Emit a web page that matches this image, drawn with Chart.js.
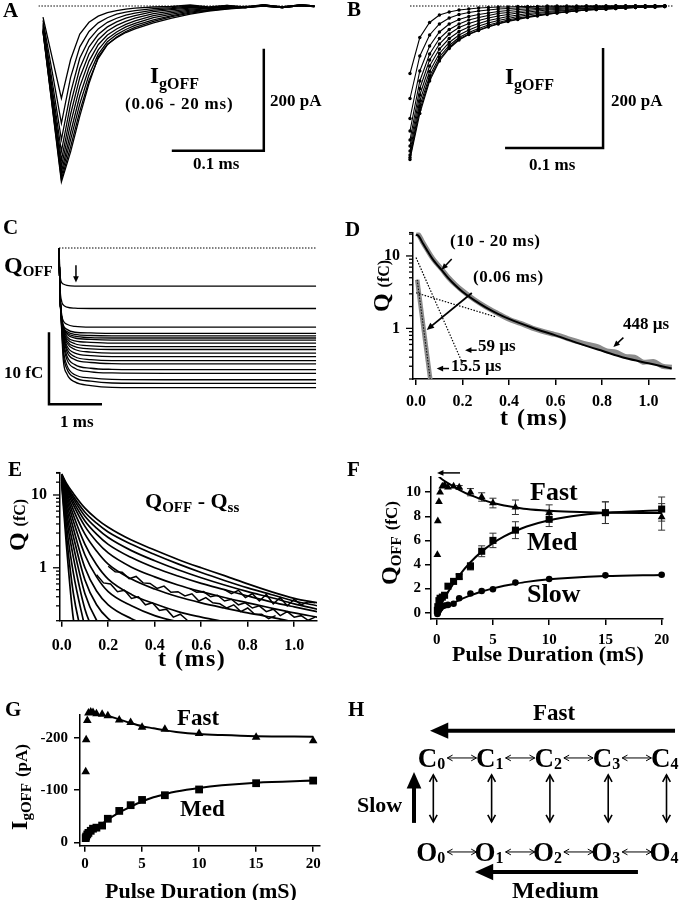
<!DOCTYPE html>
<html>
<head>
<meta charset="utf-8">
<title>Gating currents and charge</title>
<script src="https://cdn.jsdelivr.net/npm/chart.js@4.4.1/dist/chart.umd.min.js"></script>
<style>
  body { margin:0; width:690px; height:900px; position:relative; overflow:hidden; background:#fff;
         font-family:"Liberation Serif", "Times New Roman", serif; font-weight:bold; color:#000; }
  canvas { position:absolute; }
  .t { position:absolute; white-space:nowrap; line-height:1; }
</style>
</head>
<body>
<canvas id="cA" width="345" height="200" style="left:0;top:0"></canvas>
<canvas id="cB" width="345" height="200" style="left:345px;top:0"></canvas>
<canvas id="cC" width="345" height="230" style="left:0;top:210px"></canvas>
<canvas id="cD" width="345" height="230" style="left:345px;top:210px"></canvas>
<canvas id="cE" width="345" height="240" style="left:0;top:450px"></canvas>
<canvas id="cF" width="345" height="240" style="left:345px;top:450px"></canvas>
<canvas id="cG" width="345" height="210" style="left:0;top:690px"></canvas>
<canvas id="cH" width="345" height="210" style="left:345px;top:690px"></canvas>
<script>
// ---------- A: IgOFF traces after pulses of 0.06 - 20 ms (pA vs ms)
const tA = [0, 0.02, 0.03, 0.04, 0.05, 0.06, 0.07, 0.08, 0.09, 0.10, 0.12, 0.14, 0.16, 0.18, 0.20, 0.22, 0.24, 0.26, 0.28, 0.295];
const igA = [
  [-22, -181, -105, -55, -32, -20, -13, -9, -6, -4, -2, -1, 2, -2, 1, -3, 2, -2, 1, 0],
  [-28, -230, -140, -80, -50, -33, -23, -16, -12, -9, -5, -3, 0, -3, 1, -2, 3, -3, 2, -1],
  [-34, -262, -170, -102, -66, -45, -32, -24, -18, -14, -8, -5, -2, -4, 0, -3, 1, -2, 2, 0],
  [-38, -285, -192, -122, -80, -56, -41, -31, -24, -19, -11, -7, -4, -3, -1, -3, 2, -3, 1, -1],
  [-42, -302, -212, -140, -94, -66, -49, -38, -30, -24, -15, -10, -6, -4, -2, -2, 1, -3, 2, 0],
  [-45, -315, -230, -158, -108, -76, -57, -45, -36, -29, -19, -13, -8, -5, -3, -1, 0, -3, 1, -1],
  [-47, -326, -248, -176, -122, -86, -64, -51, -41, -34, -23, -16, -10, -7, -4, -2, 1, -2, 2, 0],
  [-49, -334, -262, -192, -135, -95, -70, -56, -46, -38, -27, -19, -12, -8, -5, -2, 0, -3, 1, -1],
  [-50, -340, -276, -206, -146, -103, -76, -61, -50, -42, -30, -21, -14, -9, -5, -3, 1, -2, 2, 0],
  [-50, -345, -286, -216, -152, -100, -75, -62, -52, -45, -33, -24, -16, -10, -6, -3, 0, -3, 1, -1]
];
const baseA = [[-0.005, 0], [0.294, 0]];
const barA = [[0.14, -284], [0.24, -284], [0.24, -84]];   // 0.1 ms x 200 pA

// ---------- B: fitted IgOFF decays (sampled points)
const tB = [0, 0.01, 0.02, 0.03, 0.04, 0.05, 0.06, 0.07, 0.08, 0.09, 0.10, 0.11, 0.12, 0.13,
            0.14, 0.15, 0.16, 0.17, 0.18, 0.19, 0.20, 0.21, 0.22, 0.23, 0.24, 0.25, 0.26];
const igB = [
  [-135, -63, -33, -18, -12, -8, -6, -4, -3, -2, -2, -1, -1, -1, 0, 0, 0, 0, 0, 0, 0, 0, 0, 0, 0, 0, 0],
  [-185, -100, -58, -36, -24, -17, -13, -10, -8, -6, -5, -4, -3, -2, -2, -1, -1, -1, 0, 0, 0, 0, 0, 0, 0, 0, 0],
  [-225, -130, -80, -52, -36, -27, -21, -17, -14, -11, -9, -7, -6, -5, -4, -3, -2, -2, -1, -1, -1, 0, 0, 0, 0, 0, 0],
  [-250, -150, -96, -65, -47, -36, -28, -23, -19, -15, -13, -11, -9, -7, -6, -5, -4, -3, -2, -2, -1, -1, -1, 0, 0, 0, 0],
  [-268, -165, -108, -76, -56, -43, -35, -29, -24, -20, -17, -14, -12, -10, -8, -7, -6, -5, -4, -3, -2, -2, -1, -1, -1, 0, 0],
  [-280, -178, -120, -86, -65, -51, -42, -35, -29, -25, -21, -18, -15, -13, -11, -9, -8, -6, -5, -4, -3, -3, -2, -2, -1, -1, 0],
  [-290, -190, -131, -95, -73, -58, -48, -40, -34, -29, -25, -21, -18, -15, -13, -11, -9, -8, -7, -5, -4, -4, -3, -2, -2, -1, -1],
  [-298, -200, -140, -102, -79, -63, -53, -45, -38, -33, -28, -24, -21, -18, -15, -13, -11, -9, -8, -7, -6, -5, -4, -3, -2, -2, -1],
  [-303, -208, -146, -107, -83, -66, -56, -48, -41, -35, -30, -26, -22, -19, -16, -14, -12, -10, -8, -7, -6, -5, -4, -3, -2, -2, -1],
  [-307, -215, -150, -110, -85, -68, -57, -49, -42, -36, -31, -27, -23, -20, -17, -14, -12, -10, -8, -7, -6, -5, -4, -3, -2, -2, -1]
];
const baseB = [[0, 0], [0.268, 0]];
const barB = [[0.097, -284], [0.197, -284], [0.197, -84]];

// ---------- C: QOFF (fC) integrals vs time (ms)
const tC = [0, 0.02, 0.05, 0.08, 0.15, 0.3, 0.6, 1.0, 2.0, 3.0, 4.0, 4.85];
const qC = [
  [0, -3.7, -4.8, -5.0, -5.2, -5.3, -5.3, -5.3, -5.3, -5.3, -5.3, -5.3],
  [0, -5.5, -7.4, -7.9, -8.2, -8.35, -8.4, -8.4, -8.4, -8.4, -8.4, -8.4],
  [0, -6.5, -9.2, -10.1, -10.6, -10.9, -11.0, -11.0, -11.0, -11.0, -11.0, -11.0],
  [0, -6.6, -9.6, -10.7, -11.3, -11.7, -11.8, -11.85, -11.85, -11.85, -11.85, -11.85],
  [0, -6.6, -9.7, -10.9, -11.6, -12.0, -12.15, -12.2, -12.2, -12.2, -12.2, -12.2],
  [0, -6.6, -9.8, -11.0, -11.8, -12.25, -12.45, -12.5, -12.5, -12.5, -12.5, -12.5],
  [0, -6.6, -9.8, -11.1, -12.0, -12.5, -12.7, -12.8, -12.8, -12.8, -12.8, -12.8],
  [0, -6.6, -9.8, -11.2, -12.3, -12.9, -13.1, -13.2, -13.2, -13.2, -13.2, -13.2],
  [0, -6.6, -9.8, -11.4, -12.6, -13.3, -13.6, -13.7, -13.7, -13.7, -13.7, -13.7],
  [0, -6.6, -9.8, -11.5, -12.9, -13.7, -14.0, -14.1, -14.1, -14.1, -14.1, -14.1],
  [0, -6.6, -9.9, -11.7, -13.2, -14.1, -14.45, -14.6, -14.6, -14.6, -14.6, -14.6],
  [0, -6.6, -9.9, -11.9, -13.6, -14.6, -14.95, -15.1, -15.1, -15.1, -15.1, -15.1],
  [0, -6.6, -10.0, -12.1, -14.0, -15.1, -15.5, -15.65, -15.65, -15.65, -15.65, -15.65],
  [0, -6.6, -10.1, -12.3, -14.4, -15.5, -15.9, -16.05, -16.1, -16.1, -16.1, -16.1],
  [0, -6.6, -10.3, -12.8, -15.0, -16.2, -16.7, -16.85, -16.9, -16.9, -16.9, -16.9],
  [0, -6.6, -10.5, -13.2, -15.5, -16.7, -17.2, -17.35, -17.4, -17.4, -17.4, -17.4],
  [0, -6.6, -10.8, -14.0, -16.3, -17.6, -18.05, -18.25, -18.3, -18.3, -18.3, -18.3],
  [0, -6.6, -11.0, -14.6, -16.8, -18.0, -18.5, -18.75, -18.8, -18.8, -18.8, -18.8],
  [0, -6.6, -11.4, -15.5, -17.5, -18.6, -19.1, -19.35, -19.4, -19.4, -19.4, -19.4]
];
const baseC = [[0, 0], [4.85, 0]];
const barC = [[-0.189, -11.7], [-0.189, -21.7], [0.811, -21.7]];   // 10 fC x 1 ms

// ---------- D: Q (fC) on log axis vs t (ms)
const tDfit = [0, 0.01, 0.02, 0.03, 0.05, 0.07, 0.09, 0.11, 0.14, 0.17, 0.2, 0.25, 0.3, 0.35, 0.4, 0.5, 0.6, 0.7, 0.8, 0.9, 1.0, 1.1];
const qDfit = [19.5, 19.0, 17.0, 14.8, 11.6, 9.2, 7.6, 6.4, 4.9, 3.9, 3.2, 2.45, 1.95, 1.6, 1.35, 1.02, 0.8, 0.62, 0.49, 0.39, 0.33, 0.28];
const tDdata = [0, 0.01, 0.02, 0.03, 0.05, 0.07, 0.09, 0.11, 0.14, 0.17, 0.2, 0.25, 0.3, 0.35, 0.4, 0.45, 0.5, 0.54,
                0.58, 0.62, 0.66, 0.7, 0.74, 0.78, 0.82, 0.86, 0.9, 0.94, 0.98, 1.02, 1.06, 1.1];
const qDdata = [20.3, 19.8, 17.5, 15.2, 11.9, 9.4, 7.8, 6.6, 5.0, 4.0, 3.3, 2.5, 1.98, 1.62, 1.34, 1.17, 1.01, 0.92,
                0.85, 0.79, 0.71, 0.65, 0.6, 0.56, 0.49, 0.47, 0.41, 0.4, 0.34, 0.35, 0.3, 0.29];
const tD59 = [0, 0.2],        qD59 = [9.5, 0.33];      // 59 us component
const tD448 = [0, 0.34],      qD448 = [3.1, 1.45];     // 448 us component
const tD15 = [0.005, 0.063],  qD15 = [4.7, 0.18];      // 0.06 ms pulse, 15.5 us

// ---------- E: QOFF - Qss, all pulse durations
const tE = [0, 0.02, 0.05, 0.1, 0.15, 0.2, 0.3, 0.4, 0.5, 0.6, 0.7, 0.8, 0.9, 1.0, 1.1];
const qE = [
  [19.5, 14.5, 10.5, 6.6, 4.7, 3.6, 2.4, 1.75, 1.3, 1.0, 0.78, 0.6, 0.47, 0.38, 0.33],
  [19, 13.8, 9.6, 5.8, 4.1, 3.1, 2.1, 1.52, 1.13, 0.86, 0.67, 0.53, 0.43, 0.35, 0.3],
  [19, 13.2, 8.9, 5.1, 3.5, 2.6, 1.72, 1.25, 0.94, 0.73, 0.58, 0.47, 0.39, 0.32, 0.27],
  [18.5, 12.6, 8.1, 4.4, 2.9, 2.1, 1.38, 1.0, 0.77, 0.61, 0.5, 0.41, 0.34, 0.29, 0.25],
  [18.5, 12, 7.3, 3.7, 2.3, 1.6, 1.02, 0.75, 0.58, 0.47, 0.39, 0.33, 0.28, 0.24, 0.21],
  [18, 11.2, 6.3, 2.9, 1.7, 1.12, 0.7, 0.51, 0.4, 0.33, 0.28, 0.24, 0.21, 0.18, 0.16],
  [18, 10.3, 5.3, 2.1, 1.1, 0.7, 0.43, 0.32, 0.25, 0.21, 0.18, 0.15, 0.13, 0.12, 0.11],
  [17.5, 9.3, 4.4, 1.5, 0.75, 0.47, 0.3, 0.22, 0.18, 0.15, 0.13],
  [17.5, 8.2, 3.5, 1.0, 0.48, 0.31, 0.2, 0.15, 0.12],
  [17, 7.1, 2.7, 0.68, 0.31, 0.2, 0.13],
  [17, 6.0, 2.0, 0.44, 0.19, 0.12],
  [16.5, 5.0, 1.4, 0.27, 0.11],
  [16, 3.9, 0.85, 0.15],
  [15, 2.9, 0.45, 0.08],
  [14, 2.1, 0.2, 0.04]
];
const noisyE = [
  { t: [0.2, 0.23, 0.26, 0.29, 0.32, 0.35, 0.38, 0.41, 0.44, 0.47, 0.5, 0.53, 0.56, 0.59, 0.62, 0.65, 0.68, 0.71, 0.74, 0.77, 0.8, 0.83, 0.86, 0.89, 0.92],
    q: [1.05, 0.88, 0.87, 0.71, 0.76, 0.62, 0.61, 0.52, 0.56, 0.46, 0.47, 0.41, 0.44, 0.35, 0.39, 0.33, 0.32, 0.28, 0.31, 0.25, 0.28, 0.23, 0.23, 0.2, 0.22] },
  { t: [0.15, 0.18, 0.21, 0.24, 0.27, 0.3, 0.33, 0.36, 0.39, 0.42, 0.45, 0.48, 0.51, 0.54],
    q: [0.8, 0.62, 0.6, 0.47, 0.49, 0.38, 0.4, 0.31, 0.33, 0.26, 0.27, 0.21, 0.23, 0.19] },
  { t: [0.7, 0.73, 0.76, 0.79, 0.82, 0.85, 0.88, 0.91, 0.94, 0.97, 1.0, 1.03, 1.06, 1.09],
    q: [0.5, 0.44, 0.49, 0.39, 0.44, 0.35, 0.43, 0.32, 0.39, 0.3, 0.37, 0.31, 0.34, 0.33] },
  { t: [0.55, 0.58, 0.61, 0.64, 0.67, 0.7, 0.73, 0.76, 0.79, 0.82, 0.85, 0.88, 0.91, 0.94, 0.97, 1.0, 1.03, 1.06, 1.09],
    q: [0.52, 0.46, 0.47, 0.4, 0.42, 0.35, 0.37, 0.31, 0.33, 0.28, 0.3, 0.25, 0.27, 0.22, 0.25, 0.21, 0.22, 0.19, 0.21] }
];

// ---------- F: QOFF components (fC) vs pulse duration (ms)
const durF = [0.06, 0.1, 0.2, 0.3, 0.5, 0.7, 1, 1.5, 2, 3, 4, 5, 7, 10, 15, 20];
const fastF = [4.8, 7.6, 9.2, 10.0, 10.5, 10.6, 10.4, 10.5, 10.4, 10.0, 9.6, 9.1, 8.75, 8.3, 8.3, 7.95];
const fastErrF = [0, 0, 0, 0, 0, 0, 0, 0, 0.15, 0.3, 0.35, 0.4, 0.6, 0.65, 0.9, 1.1];
const medF = [0.2, 0.5, 1.0, 1.2, 1.3, 1.45, 2.2, 2.6, 3.0, 3.85, 5.1, 6.0, 6.85, 7.75, 8.3, 8.6];
const medErrF = [0, 0, 0, 0, 0, 0, 0, 0, 0.2, 0.3, 0.45, 0.6, 0.7, 0.6, 0.9, 1.0];
const slowF = [-0.1, 0.0, 0.2, 0.35, 0.55, 0.6, 0.65, 0.75, 1.2, 1.6, 1.8, 1.95, 2.5, 2.8, 3.1, 3.15];
const durFitF = [0, 0.5, 1, 2, 3, 4, 5, 6, 7, 8, 10, 12, 15, 20];
const fastFitF = [11.45, 11.05, 10.75, 10.2, 9.75, 9.4, 9.1, 8.9, 8.75, 8.6, 8.45, 8.37, 8.3, 8.27];
const medFitF = [0, 0.9, 1.71, 3.09, 4.19, 5.07, 5.77, 6.33, 6.78, 7.15, 7.67, 8.0, 8.29, 8.5];
const slowFitF = [0, 0.3, 0.58, 1.05, 1.44, 1.76, 2.02, 2.24, 2.41, 2.56, 2.77, 2.91, 3.04, 3.14];

// ---------- G: IgOFF peak components (pA) vs pulse duration (ms)
const durG = [0.06, 0.1, 0.2, 0.3, 0.5, 0.7, 1, 1.5, 2, 3, 4, 5, 7, 10, 15, 20];
const fastG = [-135, -196, -233, -247, -249, -248, -246, -245, -242, -234, -229, -220, -216, -208, -201, -194];
const medG = [-8, -11, -15, -18, -22, -26, -28, -32, -45, -60, -71, -81, -90, -101, -113, -118];
const durFitG = [0.2, 1, 2, 3, 4, 5, 6, 7, 8, 10, 12, 15, 20];
const fastFitG = [-252, -248, -242, -235, -228, -222, -218, -214, -211, -207, -205, -203, -202];
const durFitG2 = [0, 0.5, 1, 2, 3, 4, 5, 6, 7, 8, 10, 12, 15, 20];
const medFitG = [-8, -20, -28, -43, -57, -68, -78, -86, -92, -97, -104, -109, -114, -118];

// ---------- H: kinetic scheme
const statesH = [0, 1, 2, 3, 4];
const rowsH = [{ name: 'C', level: 1 }, { name: 'O', level: 0 }];

// ================= helpers
const SERIF = '"Liberation Serif", "Times New Roman", serif';
Chart.defaults.font.family = SERIF;
Chart.defaults.font.weight = 'bold';
Chart.defaults.font.size = 15;
Chart.defaults.color = '#000';

function pts(xs, ys) {
  const n = Math.min(xs.length, ys.length), out = [];
  for (let i = 0; i < n; i++) out.push({ x: xs[i], y: ys[i] });
  return out;
}
function xy(pairs) { return pairs.map(p => ({ x: p[0], y: p[1] })); }
function line(data, extra) {
  return Object.assign({ data, showLine: true, borderColor: '#000', backgroundColor: '#000',
    borderWidth: 1.3, pointRadius: 0, fill: false, tension: 0 }, extra || {});
}

function bare(xmin, xmax, ymin, ymax, pad) {
  return {
    responsive: false, animation: false, events: [],
    layout: { padding: pad },
    plugins: { legend: { display: false }, tooltip: { enabled: false } },
    scales: {
      x: { type: 'linear', display: false, min: xmin, max: xmax },
      y: { type: 'linear', display: false, min: ymin, max: ymax }
    }
  };
}

function axisX(min, max, step, pad, h, fmt, size) {
  return {
    type: 'linear', min, max,
    border: { display: true, color: '#000', width: 1.5 },
    grid: { display: true, drawOnChartArea: false, drawTicks: true, tickLength: 6, color: '#000', lineWidth: 1.5 },
    ticks: { stepSize: step, includeBounds: false, padding: pad, autoSkip: false, maxRotation: 0,
             font: { size: size || 16, weight: 'bold' }, callback: fmt || (v => String(v)) },
    afterFit: s => { s.height = h; }
  };
}
function axisY(min, max, step, pad, w, reverse) {
  return {
    type: 'linear', min, max, reverse: !!reverse,
    border: { display: true, color: '#000', width: 1.5 },
    grid: { display: true, drawOnChartArea: false, drawTicks: true, tickLength: 6, color: '#000', lineWidth: 1.5 },
    ticks: { stepSize: step, includeBounds: false, padding: pad, autoSkip: false, font: { size: 15, weight: 'bold' } },
    afterFit: s => { s.width = w; }
  };
}
function axisLogY(min, max, pad, w) {
  return {
    type: 'logarithmic', min, max,
    border: { display: true, color: '#000', width: 1.5 },
    grid: { display: false, drawOnChartArea: false, drawTicks: false },
    ticks: { padding: pad, autoSkip: false, font: { size: 16, weight: 'bold' },
             callback: v => (v === 1 || v === 10) ? String(v) : '' },
    afterFit: s => { s.width = w; }
  };
}
function axisOptions(x, y, pad) {
  return {
    responsive: false, animation: false, events: [],
    layout: { padding: pad },
    plugins: { legend: { display: false }, tooltip: { enabled: false } },
    scales: { x, y }
  };
}

// major / minor tick marks of a log y axis
const logTicks = {
  id: 'logTicks',
  afterDraw(chart) {
    const s = chart.scales.y, ctx = chart.ctx;
    ctx.save();
    ctx.strokeStyle = '#000'; ctx.lineWidth = 1.3;
    s.ticks.forEach(t => {
      const yy = s.getPixelForValue(t.value);
      const len = (t.value === 1 || t.value === 10) ? 7 : 4;
      ctx.beginPath(); ctx.moveTo(s.right, yy); ctx.lineTo(s.right - len, yy); ctx.stroke();
    });
    ctx.restore();
  }
};

function drawArrow(ctx, x1, y1, x2, y2, w, h, open, both) {
  const a = Math.atan2(y2 - y1, x2 - x1);
  ctx.save();
  ctx.strokeStyle = '#000'; ctx.fillStyle = '#000'; ctx.lineWidth = w; ctx.lineCap = 'butt';
  const back = open ? 0 : h * 0.8;
  const sx = both && !open ? x1 + Math.cos(a) * back : x1, sy = both && !open ? y1 + Math.sin(a) * back : y1;
  ctx.beginPath();
  ctx.moveTo(sx, sy);
  ctx.lineTo(x2 - Math.cos(a) * back, y2 - Math.sin(a) * back);
  ctx.stroke();
  const head = (tx, ty, ang) => {
    const hw = open ? 0.5 : 0.42;
    const lx = tx - h * Math.cos(ang - hw), ly = ty - h * Math.sin(ang - hw);
    const rx = tx - h * Math.cos(ang + hw), ry = ty - h * Math.sin(ang + hw);
    ctx.beginPath();
    if (open) {
      ctx.moveTo(lx, ly); ctx.lineTo(tx, ty); ctx.lineTo(rx, ry); ctx.stroke();
    } else {
      ctx.moveTo(tx, ty); ctx.lineTo(lx, ly); ctx.lineTo(rx, ry); ctx.closePath(); ctx.fill();
    }
  };
  head(x2, y2, a);
  if (both) head(x1, y1, a + Math.PI);
  ctx.restore();
}

// arrows placed in data coordinates
function arrowPlugin(items) {
  return {
    id: 'arrows',
    afterDatasetsDraw(chart) {
      const xs = chart.scales.x, ys = chart.scales.y;
      items.forEach(a => drawArrow(chart.ctx,
        xs.getPixelForValue(a.from[0]), ys.getPixelForValue(a.from[1]),
        xs.getPixelForValue(a.to[0]), ys.getPixelForValue(a.to[1]),
        a.w || 1.5, a.head || 7, a.open, a.both));
    }
  };
}

// error bars from ds.errs
const errorBars = {
  id: 'errorBars',
  beforeDatasetsDraw(chart) {
    const ctx = chart.ctx, ys = chart.scales.y;
    chart.data.datasets.forEach((ds, di) => {
      if (!ds.errs) return;
      const meta = chart.getDatasetMeta(di);
      ctx.save(); ctx.strokeStyle = '#333'; ctx.lineWidth = 1;
      meta.data.forEach((p, j) => {
        const e = ds.errs[j]; if (!e) return;
        const v = ds.data[j].y;
        const y1 = ys.getPixelForValue(v + e), y2 = ys.getPixelForValue(v - e);
        ctx.beginPath();
        ctx.moveTo(p.x, y1); ctx.lineTo(p.x, y2);
        ctx.moveTo(p.x - 3.5, y1); ctx.lineTo(p.x + 3.5, y1);
        ctx.moveTo(p.x - 3.5, y2); ctx.lineTo(p.x + 3.5, y2);
        ctx.stroke();
      });
      ctx.restore();
    });
  }
};

// ================= A
new Chart(document.getElementById('cA'), {
  type: 'scatter',
  data: { datasets: [
    ...igA.map(v => line(pts(tA, v), { borderWidth: 1.3 })),
    line(xy(baseA), { borderWidth: 1, borderDash: [1.5, 1.5] }),
    line(xy(barA), { borderWidth: 2.5 })
  ] },
  options: bare(-0.005, 0.3, -380, 4, { left: 38.4, right: 26, top: 3.96, bottom: 0.2 })
});

// ================= B
new Chart(document.getElementById('cB'), {
  type: 'scatter',
  data: { datasets: [
    ...igB.map(v => line(pts(tB, v), { borderWidth: 1.1, pointRadius: 1.7, pointBorderWidth: 0, pointBackgroundColor: '#000' })),
    line(xy(baseB), { borderWidth: 1, borderDash: [1.5, 1.5] }),
    line(xy(barB), { borderWidth: 2.5 })
  ] },
  options: bare(-0.005, 0.27, -380, 4, { left: 60.1, right: 15.4, top: 3.96, bottom: 0.2 })
});

// ================= C
new Chart(document.getElementById('cC'), {
  type: 'scatter',
  data: { datasets: [
    ...qC.map(v => line(pts(tC, v), { borderWidth: 1.3, cubicInterpolationMode: 'monotone' })),
    line(xy(baseC), { borderWidth: 1, borderDash: [1.5, 1.5] }),
    line(xy(barC), { borderWidth: 2.5 })
  ] },
  options: bare(-0.25, 4.95, -26, 1, { left: 45.75, right: 23.65, top: 30.8, bottom: 4.8 }),
  plugins: [arrowPlugin([{ from: [0.32, -2.4], to: [0.32, -4.8], w: 1.5, head: 7 }])]
});

// ================= D
new Chart(document.getElementById('cD'), {
  type: 'scatter',
  data: { datasets: [
    line(pts(tDfit, qDfit), { borderWidth: 2, cubicInterpolationMode: 'monotone' }),
    line(pts(tD59, qD59), { borderWidth: 1.2, borderDash: [1.5, 1.5] }),
    line(pts(tD448, qD448), { borderWidth: 1.2, borderDash: [1.5, 1.5] }),
    line(pts(tD15, qD15), { borderWidth: 1, borderDash: [1.5, 1.5] }),
    line(pts(tD15, qD15), { borderWidth: 4.5, borderColor: '#8c8c8c' }),
    line(pts(tDdata, qDdata), { borderWidth: 5, borderColor: '#8c8c8c', cubicInterpolationMode: 'monotone' })
  ] },
  options: axisOptions(
    axisX(-0.013, 1.114, 0.2, 7, 40, v => v.toFixed(1)),
    axisLogY(0.2, 21, 13, 40),
    { left: 28, right: 15, top: 10, bottom: 21 }),
  plugins: [logTicks, arrowPlugin([
    { from: [0.1535, 9.08], to: [0.110, 6.43], w: 1.5, head: 7 },
    { from: [0.24, 3.08], to: [0.046, 0.95], w: 1.8, head: 8 },
    { from: [0.261, 0.50], to: [0.211, 0.50], w: 1.5, head: 7 },
    { from: [0.142, 0.279], to: [0.089, 0.279], w: 1.5, head: 7 },
    { from: [0.892, 0.745], to: [0.849, 0.555], w: 1.5, head: 7 }
  ])]
});

// ================= E
new Chart(document.getElementById('cE'), {
  type: 'scatter',
  data: { datasets: [
    ...qE.map(v => line(pts(tE, v), { borderWidth: 1.7, cubicInterpolationMode: 'monotone' })),
    ...noisyE.map(n => line(pts(n.t, n.q), { borderWidth: 1.5 }))
  ] },
  options: axisOptions(
    axisX(-0.0073, 1.098, 0.2, 10, 40, v => v.toFixed(1)),
    axisLogY(0.1875, 20.3, 13, 40),
    { left: 20, right: 28, top: 12, bottom: 29.3 }),
  plugins: [logTicks]
});

// ================= F
const markerF = { showLine: false, borderWidth: 0, clip: false, pointBorderWidth: 0, pointBackgroundColor: '#000' };
new Chart(document.getElementById('cF'), {
  type: 'scatter',
  data: { datasets: [
    line(pts(durFitF, fastFitF), { borderWidth: 2, cubicInterpolationMode: 'monotone' }),
    line(pts(durFitF, medFitF), { borderWidth: 2, cubicInterpolationMode: 'monotone' }),
    line(pts(durFitF, slowFitF), { borderWidth: 2, cubicInterpolationMode: 'monotone' }),
    Object.assign({ data: pts(durF, fastF), errs: fastErrF, pointStyle: 'triangle', pointRadius: 4.5 }, markerF),
    Object.assign({ data: pts(durF, medF), errs: medErrF, pointStyle: 'rect', pointRadius: 5 }, markerF),
    Object.assign({ data: pts(durF, slowF), pointStyle: 'circle', pointRadius: 3.3 }, markerF)
  ] },
  options: axisOptions(
    axisX(-0.507, 20.12, 5, 6, 40, null, 15),
    axisY(-0.52, 11.26, 2, 4, 40),
    { left: 46, right: 27, top: 27, bottom: 31 }),
  plugins: [errorBars, arrowPlugin([{ from: [2.07, 11.6], to: [0.03, 11.6], w: 1.5, head: 7 }])]
});

// ================= G
new Chart(document.getElementById('cG'), {
  type: 'scatter',
  data: { datasets: [
    line(pts(durFitG, fastFitG), { borderWidth: 2, cubicInterpolationMode: 'monotone' }),
    line(pts(durFitG2, medFitG), { borderWidth: 2, cubicInterpolationMode: 'monotone' }),
    Object.assign({ data: pts(durG, fastG), pointStyle: 'triangle', pointRadius: 5 }, markerF),
    Object.assign({ data: pts(durG, medG), pointStyle: 'rect', pointRadius: 5.5 }, markerF)
  ] },
  options: axisOptions(
    axisX(-0.44, 20.6, 5, 3, 30, null, 15),
    axisY(-243.4, 6.5, 100, 6, 45, true),
    { left: 35, right: 25, top: 25, bottom: 24.3 })
});

// ================= H  (scheme drawn on a hidden-axis chart: x = state index, y = row level)
const schemeH = {
  id: 'scheme',
  afterDatasetsDraw(chart) {
    const ctx = chart.ctx, xs = chart.scales.x, ys = chart.scales.y;
    const X = v => xs.getPixelForValue(v), Y = v => ys.getPixelForValue(v);
    ctx.save();
    ctx.fillStyle = '#000';
    rowsH.forEach(row => {
      statesH.forEach((k, i) => {
        ctx.font = 'bold 27px ' + SERIF; ctx.textAlign = 'right'; ctx.textBaseline = 'alphabetic';
        ctx.fillText(row.name, X(i) + 4, Y(row.level) + 9);
        ctx.font = 'bold 16px ' + SERIF; ctx.textAlign = 'left';
        ctx.fillText(String(k), X(i) + 4, Y(row.level) + 11);
        if (i < statesH.length - 1)
          drawArrow(ctx, X(i + 0.24), Y(row.level), X(i + 0.74), Y(row.level), 1, 6, true, true);
      });
    });
    statesH.forEach(i => drawArrow(ctx, X(i), Y(0.32), X(i), Y(0.82), 1.6, 8, true, true));
    drawArrow(ctx, X(4.146), Y(1.29), X(-0.057), Y(1.29), 4, 20, false, false);   // fast
    drawArrow(ctx, X(3.51), Y(-0.213), X(0.714), Y(-0.213), 4, 20, false, false);  // medium
    drawArrow(ctx, X(-0.331), Y(0.309), X(-0.331), Y(0.851), 4, 18, false, false); // slow
    ctx.restore();
  }
};
new Chart(document.getElementById('cH'), {
  type: 'scatter',
  data: { datasets: [] },
  options: bare(-1.515, 4.403, -0.511, 1.723, 0),
  plugins: [schemeH]
});

// ================= text
function txt(x, base, size, html, ls) {
  const d = document.createElement('div');
  d.className = 't';
  d.style.left = x + 'px';
  d.style.top = (base - 0.84 * size) + 'px';
  d.style.fontSize = size + 'px';
  if (ls) d.style.letterSpacing = ls + 'px';
  d.innerHTML = html;
  document.body.appendChild(d);
  return d;
}
function vtxt(cx, cy, size, html) {
  const d = txt(0, 0, size, html);
  d.style.left = cx + 'px'; d.style.top = cy + 'px';
  d.style.transform = 'translate(-50%,-50%) rotate(-90deg)';
}
const sub = (s, px, dy) => `<span style="font-size:${px}px;position:relative;top:${dy}px">${s}</span>`;
const sm = (s, px) => `<span style="font-size:${px}px">${s}</span>`;

txt(3, 18, 21, 'A');
txt(150, 83, 23, 'I' + sub('gOFF', 16, 6));
txt(125, 109, 17, '(0.06 - 20 ms)', 0.8);
txt(270, 106, 17, '200 pA');
txt(193, 169, 17, '0.1 ms');

txt(347, 17, 21, 'B');
txt(505, 84, 23, 'I' + sub('gOFF', 16, 6));
txt(611, 106, 17, '200 pA');
txt(529, 170, 17, '0.1 ms');

txt(3, 235, 21, 'C');
txt(4, 273, 24, 'Q' + sub('OFF', 15, 3));
txt(4, 378, 17, '10 fC');
txt(60, 427, 17, '1 ms');

txt(345, 237, 21, 'D');
txt(450, 246, 17, '(10 - 20 ms)', 0.5);
txt(473, 282, 17, '(0.06 ms)', 0.5);
txt(478, 351, 17, '59 µs');
txt(451, 371, 17, '15.5 µs');
txt(623, 329, 17, '448 µs');
vtxt(381, 286, 24, 'Q ' + sm('(fC)', 16));
txt(500, 425, 24, 't (ms)', 1.5);

txt(8, 477, 21, 'E');
vtxt(17, 525, 24, 'Q ' + sm('(fC)', 16));
txt(145, 508, 22, 'Q' + sub('OFF', 15, 4) + ' - Q' + sub('ss', 15, 4));
txt(158, 666, 24, 't (ms)', 1.5);

txt(347, 477, 21, 'F');
txt(530, 501, 26, 'Fast');
txt(527, 551, 26, 'Med');
txt(527, 603, 26, 'Slow');
vtxt(389, 543, 24, 'Q' + sub('OFF', 15, 4) + ' ' + sm('(fC)', 17));
txt(452, 661, 22, 'Pulse Duration (mS)');

txt(5, 717, 21, 'G');
txt(177, 725, 23, 'Fast');
txt(180, 816, 23, 'Med');
vtxt(19, 787, 24, 'I' + sub('gOFF', 15, 4) + ' ' + sm('(pA)', 17));
txt(105, 898, 22, 'Pulse Duration (mS)');

txt(348, 717, 21, 'H');
txt(533, 720, 23, 'Fast');
txt(357, 812, 22, 'Slow');
txt(512, 898, 24, 'Medium');
</script>
</body>
</html>
